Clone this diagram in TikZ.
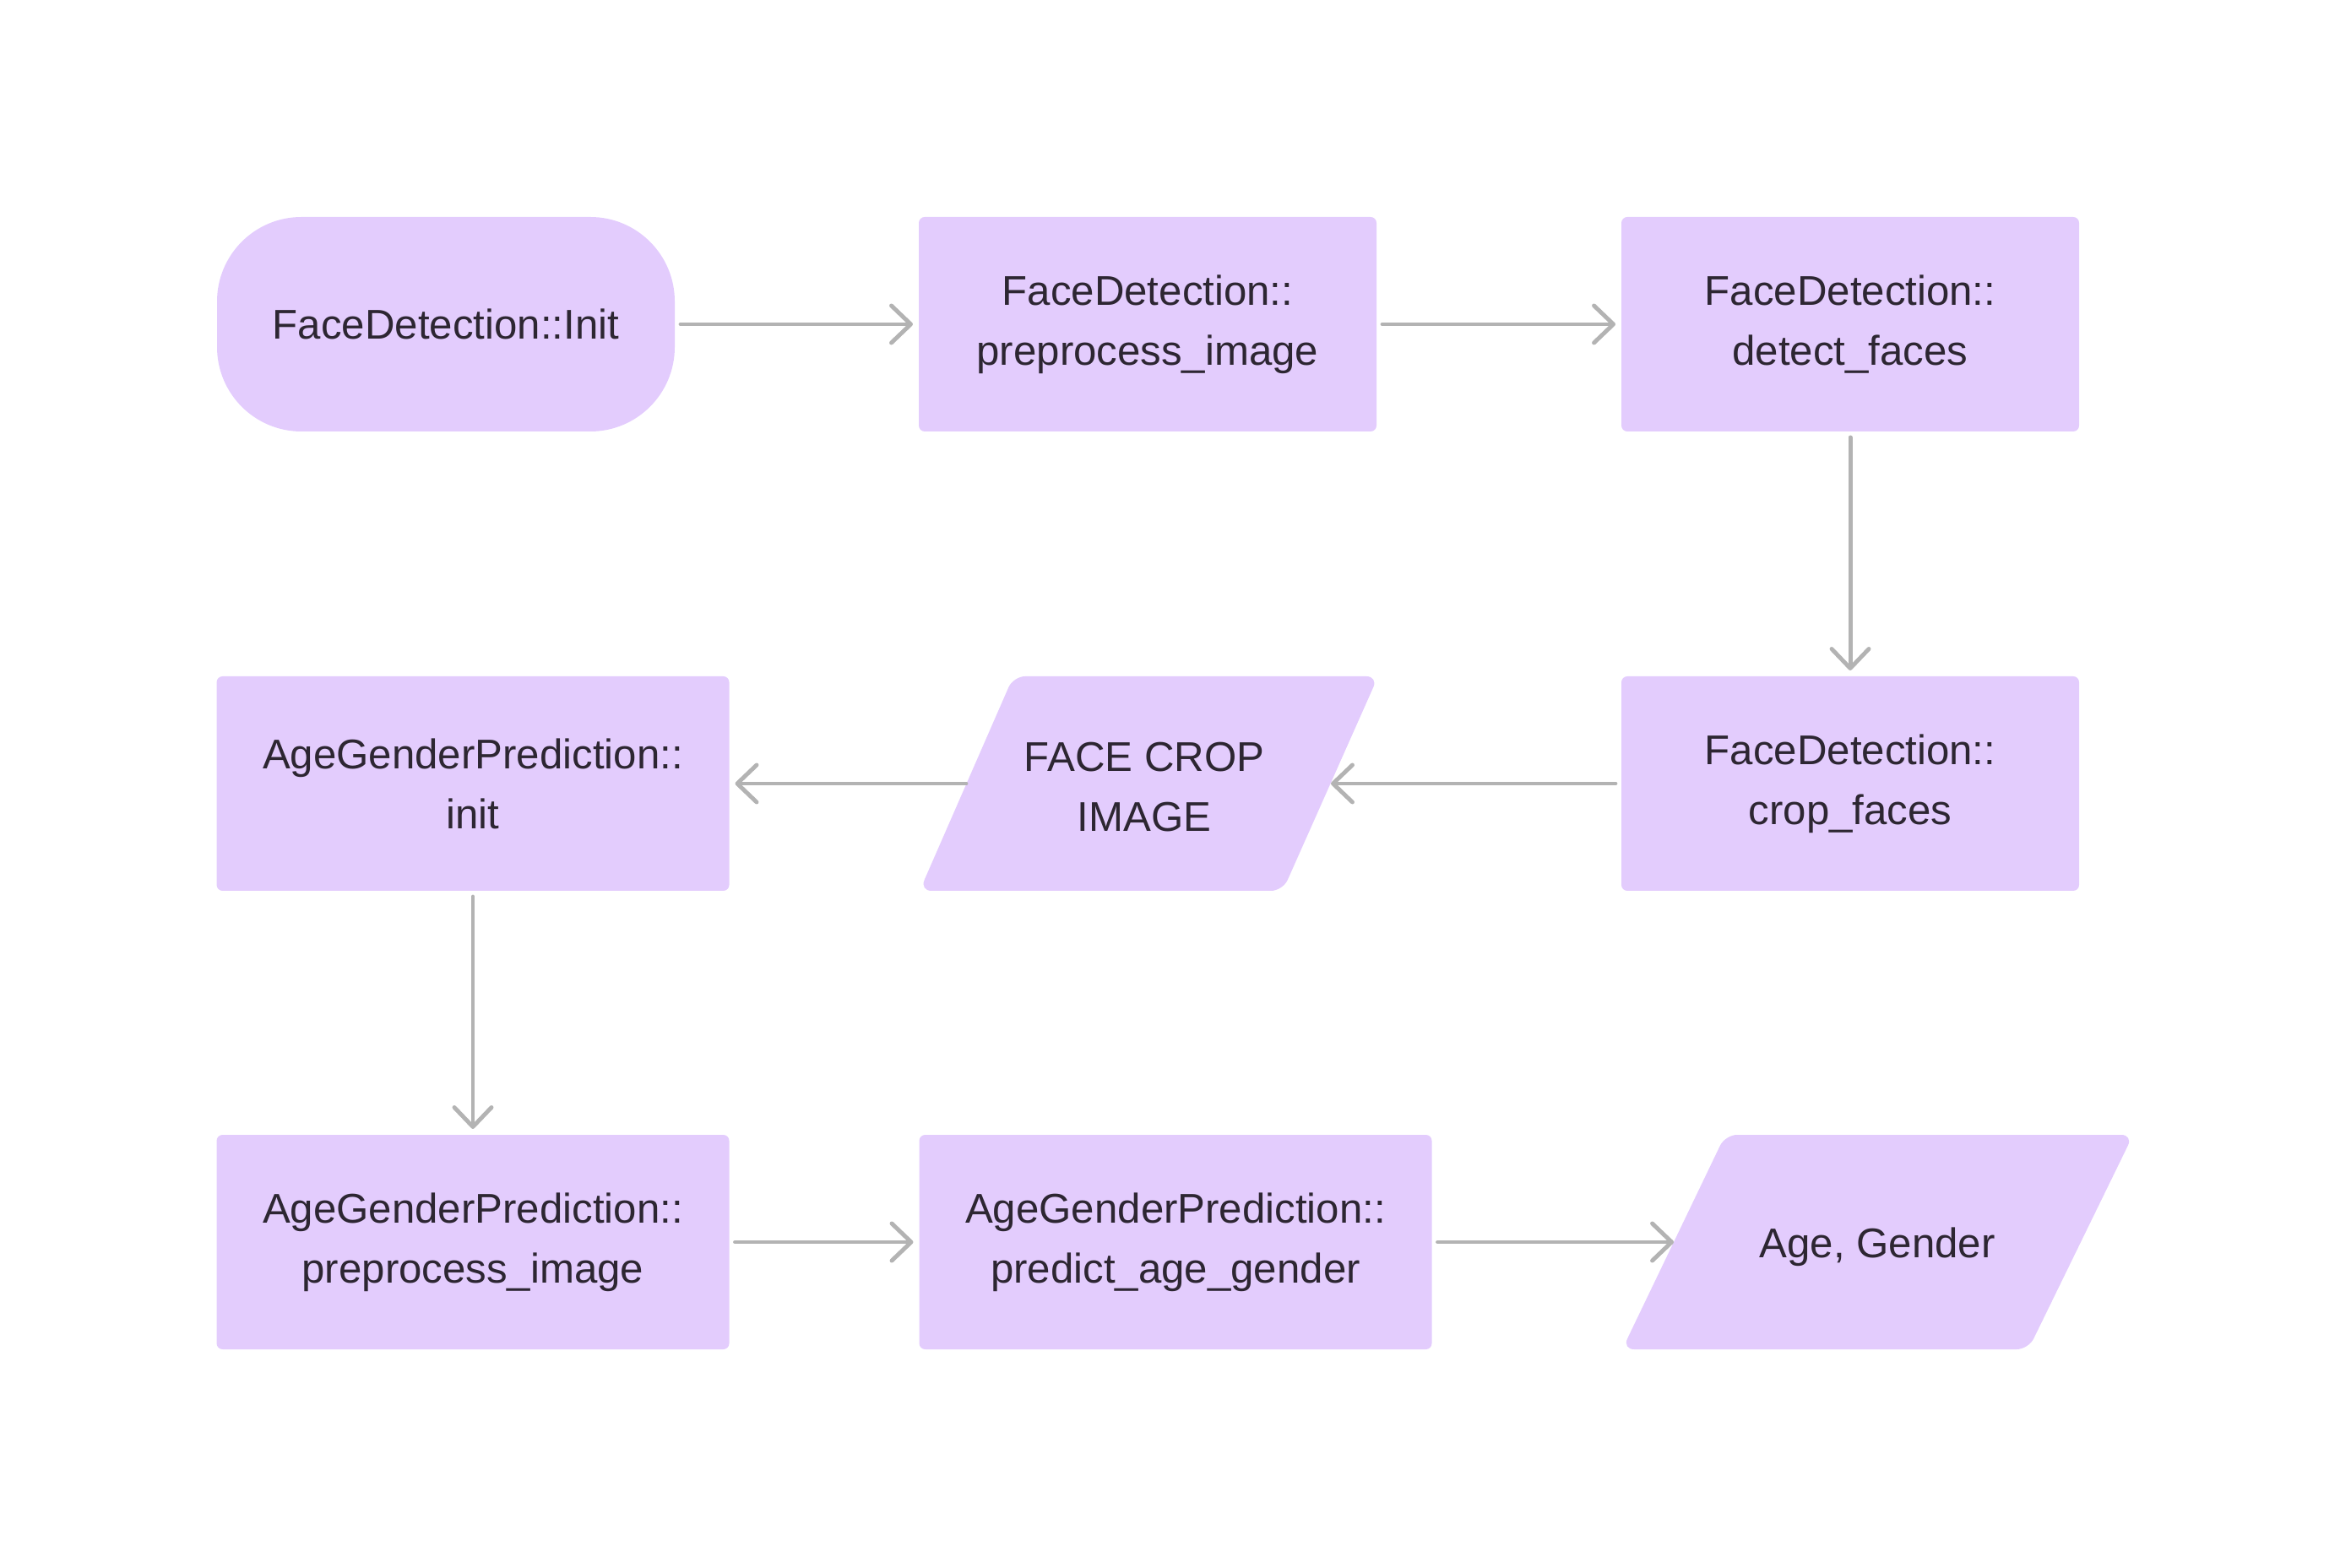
\documentclass[tikz,border=0pt]{standalone}
\usepackage{fontspec}
\setmainfont{Liberation Sans}
\usetikzlibrary{arrows.meta,calc}
\definecolor{boxlilac}{RGB}{227,204,253}
\definecolor{flowgray}{RGB}{179,179,179}
\definecolor{labelink}{RGB}{45,38,50}
\tikzset{
  procbox/.style={
    fill=boxlilac,
    rounded corners=2pt,
    minimum width=5.42cm,
    minimum height=2.54cm,
    outer sep=2pt,
    align=center,
    text=labelink,
    font={\fontsize{14}{20.2}\selectfont}
  },
  procwide/.style={
    procbox,
    minimum width=6.07cm
  },
  startbox/.style={
    procbox,
    rounded corners=1cm
  },
  dataio/.style={
    fill=boxlilac,
    rounded corners=4pt
  },
  datatext/.style={
    align=center,
    text=labelink,
    font={\fontsize{14}{20.2}\selectfont}
  },
  flowarrow/.style={
    draw=flowgray,
    line width=1.4pt,
    line cap=round,
    -{Straight Barb[length=2.3mm,width=4.4mm,round]}
  }
}

\begin{document}
\begin{tikzpicture}[x=1cm,y=1cm]

  % Page frame, same proportions as the exported flow chart.
  \useasboundingbox (0,0) rectangle (27.84,18.56);

  % Centres of the two input/output parallelograms.
  \coordinate (C) at (13.60,9.28);
  \coordinate (G) at (22.23,3.85);

  % Face detection stage (top row and right column).
  \node[startbox] (init) at (5.28,14.72) {FaceDetection::Init};
  \node[procbox] (prepface) at (13.59,14.72) {FaceDetection::\\preprocess\_image};
  \node[procbox] (detect) at (21.91,14.72) {FaceDetection::\\detect\_faces};
  \node[procbox] (cropf) at (21.91,9.28) {FaceDetection::\\crop\_faces};

  % Cropped face handed over to the second network.
  \fill[dataio] ($(C)+(-2.71,-1.27)$) -- ($(C)+(1.59,-1.27)$)
    -- ($(C)+(2.72,1.27)$) -- ($(C)+(-1.60,1.27)$) -- cycle;
  \node[datatext] (cropimg) at ($(C)+(-0.05,-0.04)$) {FACE CROP\\IMAGE};
  \coordinate (cropR) at ($(C)+(2.16,0)$);
  \coordinate (cropL) at ($(C)+(-2.16,0)$);

  % Age and gender stage.
  \node[procwide] (aginit) at (5.60,9.28) {AgeGenderPrediction::\\init};
  \node[procwide] (agprep) at (5.60,3.85) {AgeGenderPrediction::\\preprocess\_image};
  \node[procwide] (predict) at (13.92,3.85) {AgeGenderPrediction::\\predict\_age\_gender};

  % Final output.
  \fill[dataio] ($(G)+(-3.02,-1.27)$) -- ($(G)+(1.79,-1.27)$)
    -- ($(G)+(3.03,1.27)$) -- ($(G)+(-1.80,1.27)$) -- cycle;
  \node[datatext] (result) at ($(G)+(0,-0.06)$) {Age, Gender};
  \coordinate (resultL) at ($(G)+(-2.41,0)$);

  % Control flow.
  \draw[flowarrow] (init) -- (prepface);
  \draw[flowarrow] (prepface) -- (detect);
  \draw[flowarrow] (detect) -- (cropf);
  \draw[flowarrow] (cropf) -- (cropR);
  \draw[flowarrow] (cropL) -- (aginit);
  \draw[flowarrow] (aginit) -- (agprep);
  \draw[flowarrow] (agprep) -- (predict);
  \draw[flowarrow] (predict) -- (resultL);

\end{tikzpicture}
\end{document}
